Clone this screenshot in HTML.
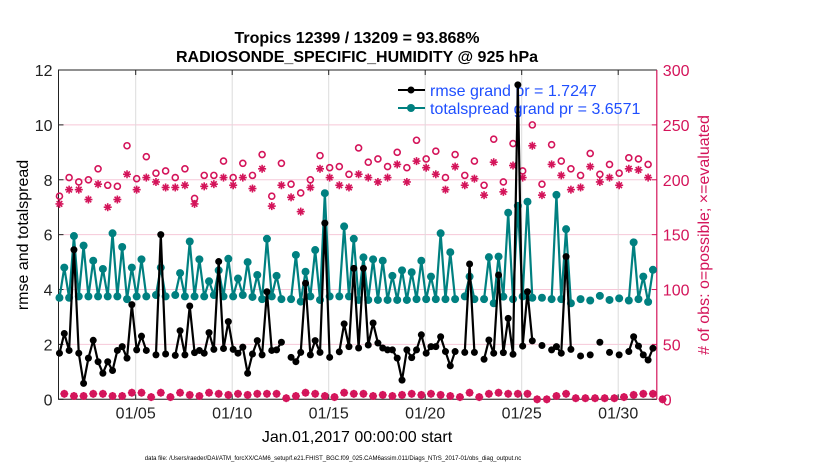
<!DOCTYPE html>
<html><head><meta charset="utf-8">
<style>
html,body{margin:0;padding:0;background:#fff;}
svg{display:block;font-family:"Liberation Sans",Arial,sans-serif;}
</style></head>
<body>
<svg id="chart" width="830" height="470" viewBox="0 0 830 470" xmlns="http://www.w3.org/2000/svg">
<rect x="0" y="0" width="830" height="470" fill="#fff"/>
<text x="357" y="43" text-anchor="middle" font-size="16" font-weight="bold">Tropics 12399 / 13209 = 93.868%</text>
<text x="357" y="62" text-anchor="middle" font-size="16" font-weight="bold">RADIOSONDE_SPECIFIC_HUMIDITY @ 925 hPa</text>
<g id="grid"></g>
<g id="axes"></g>
<g id="legend">
  <line x1="398" y1="90" x2="425" y2="90" stroke="#000" stroke-width="2"/>
  <circle cx="411" cy="90" r="3.5" fill="#000"/>
  <text x="430" y="96" font-size="16" fill="#1f4fff">rmse grand pr = 1.7247</text>
  <line x1="398" y1="108" x2="425" y2="108" stroke="#008080" stroke-width="2"/>
  <circle cx="411" cy="108" r="4" fill="#008080"/>
  <text x="430" y="114" font-size="16" fill="#1f4fff">totalspread grand pr = 3.6571</text>
</g>
<g id="series"></g>
<text transform="translate(28,235) rotate(-90)" text-anchor="middle" font-size="16">rmse and totalspread</text>
<text transform="translate(709,235) rotate(-90)" text-anchor="middle" font-size="16" fill="#d4145a"># of obs: o=possible; ×=evaluated</text>
<text x="357" y="442" text-anchor="middle" font-size="16">Jan.01,2017 00:00:00 start</text>
<text x="333" y="460" text-anchor="middle" font-size="6">data file: /Users/raeder/DAI/ATM_forcXX/CAM6_setup/f.e21.FHIST_BGC.f09_025.CAM6assim.011/Diags_NTrS_2017-01/obs_diag_output.nc</text>
</svg>
<script>
const rmse = [1.68,2.4,1.78,5.45,1.68,0.58,1.5,2.15,1.37,0.95,1.37,1.05,1.78,1.92,1.5,3.45,1.8,2.3,1.78,null,1.62,6.0,1.65,null,1.6,2.5,1.62,3.4,1.7,1.78,1.68,2.43,1.82,5.02,1.85,2.83,1.82,1.68,1.9,0.95,1.65,2.14,1.62,3.92,1.78,1.8,2.08,null,1.53,1.37,1.71,4.23,1.62,2.14,1.71,6.42,1.53,null,1.73,2.75,1.92,4.77,1.87,4.77,1.98,2.78,2.05,1.87,1.8,1.8,1.5,0.7,1.8,1.52,1.8,2.35,1.68,1.92,1.92,2.28,1.74,1.22,1.74,null,1.71,4.93,1.71,null,1.46,2.16,1.68,4.53,1.7,2.95,1.64,11.46,1.94,3.92,2.13,null,1.96,null,1.8,1.92,1.68,5.2,1.82,null,1.58,null,1.62,null,2.08,null,1.71,null,1.62,null,1.74,2.28,1.94,1.62,1.43,1.86,null,null];
const spread = [3.7,4.8,3.7,5.95,3.75,5.6,3.75,5.05,3.75,4.75,3.75,6.05,3.75,5.55,3.65,4.8,3.75,5.1,3.75,null,3.8,4.8,3.75,null,3.8,4.6,3.75,5.75,3.75,5.1,3.75,4.3,3.8,4.7,3.75,5.12,3.75,4.4,3.8,5.0,3.73,4.53,3.65,5.85,3.75,4.5,3.65,null,3.65,5.26,3.56,4.65,3.75,5.44,3.62,7.51,3.75,null,3.75,6.3,3.75,5.85,3.62,5.17,3.62,5.1,3.62,5.05,3.62,4.5,3.62,4.7,3.62,4.63,3.65,5.05,3.65,4.47,3.65,6.05,3.65,5.36,3.65,null,3.75,4.47,3.65,null,3.65,5.18,3.5,5.2,3.74,6.8,3.65,7.05,3.75,7.2,3.7,null,3.7,null,3.65,7.45,3.65,6.2,3.5,null,3.65,null,3.6,null,3.77,null,3.62,null,3.68,null,3.6,5.72,3.65,4.47,3.55,4.72,null,null];
const obsPossible = [185,5,202,3,198,3,200,5,210,5,195,3,194,3,231,6,201,6,221,2,206,6,208,2,202,6,210,4,183,3,204,6,204,5,217,4,202,5,215,4,204,5,223,5,185,5,215,1,196,3,188,6,200,5,222,3,211,2,212,6,205,5,229,5,216,3,219,4,212,3,225,4,211,5,236,4,219,5,226,4,202,3,223,2,204,6,217,2,195,5,237,6,198,5,233,5,208,5,250,0,196,0,232,3,217,5,210,1,204,1,224,1,205,1,214,1,206,2,220,4,219,5,214,5,null,0];
const obsUsed = [178,5,191,3,191,3,182,5,196,5,175,3,182,3,205,6,191,6,202,2,198,6,193,2,193,6,195,4,178,3,194,6,196,5,202,4,195,5,202,4,192,5,210,5,176,5,195,1,184,3,171,6,193,5,210,3,202,2,195,6,193,5,205,5,202,3,198,4,202,3,214,4,198,5,217,4,211,5,205,4,191,3,212,2,195,6,201,2,186,5,216,6,189,5,213,5,202,5,231,0,186,0,214,3,204,5,191,1,193,1,212,1,198,1,202,1,195,2,210,4,209,5,202,5,null,0];
const leftTicks = [0,2,4,6,8,10,12];
const rightTicks = [0,50,100,150,200,250,300];
const dateTicks = [4,9,14,19,24,29];
const dateLabels = ["01/05","01/10","01/15","01/20","01/25","01/30"];
const startOffset = 0.05, stepDays = 0.25;

const NS="http://www.w3.org/2000/svg";
const L=58.5,R=656.8,T=70,B=399.3;
const xS=d=>L+d*(R-L)/31;
const yL=v=>B-v*(B-T)/12;
const yR=v=>B-v*(B-T)/300;
const RED="#d4145a";
function mk(tag,attrs,parent){const e=document.createElementNS(NS,tag);for(const k in attrs)e.setAttribute(k,attrs[k]);parent.appendChild(e);return e;}
const grid=document.getElementById('grid'),axes=document.getElementById('axes'),series=document.getElementById('series');

rightTicks.forEach(v=>{
  const g=mk('line',{x1:L,x2:R,y1:yR(v),y2:yR(v),stroke:'#f6c8d8','stroke-width':1},grid);
  
  
  mk('line',{x1:R,x2:R-5,y1:yR(v),y2:yR(v),stroke:RED,'stroke-width':1},axes);
  const lb=mk('text',{x:R+6,y:yR(v)+6,'font-size':16,fill:RED},axes);
  lb.textContent=v;
  
  
});
dateTicks.forEach((d,k)=>{
  const g=mk('line',{x1:xS(d),x2:xS(d),y1:T,y2:B,stroke:'#dcdcdc','stroke-width':1},grid);
  
  
  mk('line',{x1:xS(d),x2:xS(d),y1:B,y2:B-5,stroke:'#222'},axes);
  mk('line',{x1:xS(d),x2:xS(d),y1:T,y2:T+5,stroke:'#222'},axes);
  const lb=mk('text',{x:xS(d),y:B+19,'text-anchor':'middle','font-size':16,fill:'#222'},axes);
  lb.textContent=dateLabels[k];
  
  
});
leftTicks.forEach(v=>{
  mk('line',{x1:L,x2:L+5,y1:yL(v),y2:yL(v),stroke:'#222'},axes);
  const lb=mk('text',{x:L-6,y:yL(v)+6,'text-anchor':'end','font-size':16,fill:'#222'},axes);
  lb.textContent=v;
  
  
});
mk('path',{d:`M${R},${T} L${L},${T} L${L},${B} L${R},${B}`,fill:'none',stroke:'#222','stroke-width':1},axes);
mk('line',{x1:R,x2:R,y1:T,y2:B,stroke:RED,'stroke-width':1.2},axes);

const tAt=i=>startOffset+i*stepDays;
obsPossible.forEach((v,i)=>{
  if(v==null)return;
  const c=mk('circle',{cx:xS(tAt(i)),cy:yR(v),r:3,fill:'none',stroke:RED,'stroke-width':1.6},series);
  
  
});
obsUsed.forEach((v,i)=>{
  if(v==null)return;
  const x=xS(tAt(i)),y=yR(v);
  const g=mk('g',{stroke:RED,'stroke-width':1.6},series);
  
  
  const r=4;
  mk('line',{x1:x-r,x2:x+r,y1:y,y2:y},g);
  mk('line',{x1:x,x2:x,y1:y-r,y2:y+r},g);
  mk('line',{x1:x-r*.7,x2:x+r*.7,y1:y-r*.7,y2:y+r*.7},g);
  mk('line',{x1:x-r*.7,x2:x+r*.7,y1:y+r*.7,y2:y-r*.7},g);
  mk('circle',{cx:x,cy:y,r:1.8,fill:RED,stroke:'none'},g);
});
function drawLine(arr,color,r,name){
  let d='',pen=false;
  arr.forEach((v,i)=>{
    if(v==null){pen=false;return;}
    d+=(pen?'L':'M')+xS(tAt(i)).toFixed(2)+','+yL(v).toFixed(2);pen=true;
  });
  const p=mk('path',{d:d,fill:'none',stroke:color,'stroke-width':2.2,'stroke-linejoin':'round'},series);
  
  
  arr.forEach((v,i)=>{
    if(v==null)return;
    const c=mk('circle',{cx:xS(tAt(i)),cy:yL(v),r:r,fill:color},series);
    
    
  });
}
drawLine(spread,'#008080',4,'totalspread');
drawLine(rmse,'#000',3.5,'rmse');
</script>
</body></html>
